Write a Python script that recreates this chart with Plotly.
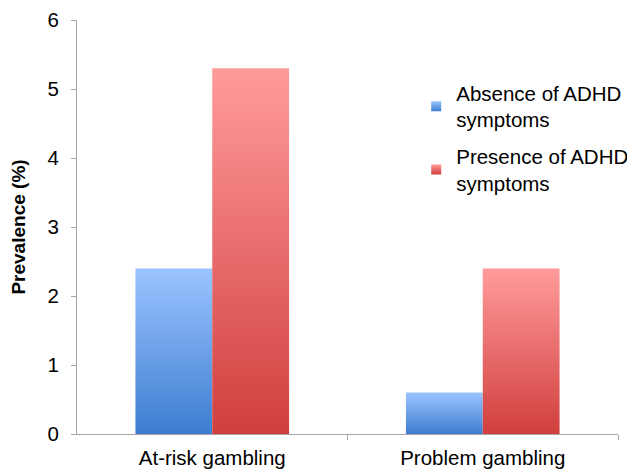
import plotly.graph_objects as go

categories = ["At-risk gambling", "Problem gambling"]
absence = [2.4, 0.6]
presence = [5.3, 2.4]
series_names = ["Absence of ADHD<br>symptoms", "Presence of ADHD<br>symptoms"]

blue_scale = [[0, "#3d7dd0"], [1, "#9cc4ff"]]
red_scale = [[0, "#d03f3d"], [1, "#ff9b9b"]]

bar_w = 0.284
FONT = "Liberation Sans, Arial, Helvetica, sans-serif"
FS = 20.5

fig = go.Figure()

def add_bar(i, v, offset, scale):
    x0 = i + offset
    x1 = x0 + bar_w
    fig.add_trace(go.Scatter(
        x=[x0, x0, x1, x1, x0], y=[0, v, v, 0, 0],
        mode="lines", line=dict(width=0),
        fill="toself",
        fillgradient=dict(type="vertical", colorscale=scale, start=0, stop=v),
        showlegend=False, hoverinfo="skip",
    ))

for i, v in enumerate(absence):
    add_bar(i, v, -bar_w, blue_scale)
for i, v in enumerate(presence):
    add_bar(i, v, 0, red_scale)

# legend entries
for k, (name, scale) in enumerate(zip(series_names, [blue_scale, red_scale])):
    fig.add_trace(go.Scatter(
        x=[None], y=[None], mode="markers", name=name, legendgroup=f"g{k}",
        marker=dict(symbol="square", size=10, color=scale[1][1],
                    gradient=dict(type="vertical", color=scale[0][1])),
    ))

axis_gray = "#a6a6a6"
fig.update_layout(
    width=660, height=472,
    margin=dict(l=69, r=50, t=12, b=46),
    plot_bgcolor="white", paper_bgcolor="white",
    font=dict(family=FONT, size=FS, color="black"),
    showlegend=True,
    legend=dict(x=0.627, y=0.872, xanchor="left", yanchor="top",
                bgcolor="rgba(0,0,0,0)", font=dict(size=FS),
                tracegroupgap=7, itemwidth=30),
    xaxis=dict(range=[-0.5, 1.5], tickvals=[0, 1], ticktext=categories,
               ticks="", showline=True, linecolor=axis_gray, linewidth=1,
               showgrid=False, zeroline=False, tickfont=dict(size=FS),
               automargin=False, ticklabelstandoff=5,
               minor=dict(tickmode="array", tickvals=[0.5, 1.5], ticks="outside",
                          ticklen=5, tickcolor=axis_gray, showgrid=False)),
    yaxis=dict(range=[0, 6], dtick=1, ticks="outside", ticklen=5,
               tickcolor=axis_gray, showline=True, linecolor=axis_gray,
               linewidth=1, showgrid=False, zeroline=False,
               tickfont=dict(size=FS), ticklabelstandoff=8, automargin=False,
               ticklabeloverflow="allow",
               title=dict(text="<b>Prevalence (%)</b>", font=dict(size=19), standoff=19)),
)

fig.write_html("out.html")
